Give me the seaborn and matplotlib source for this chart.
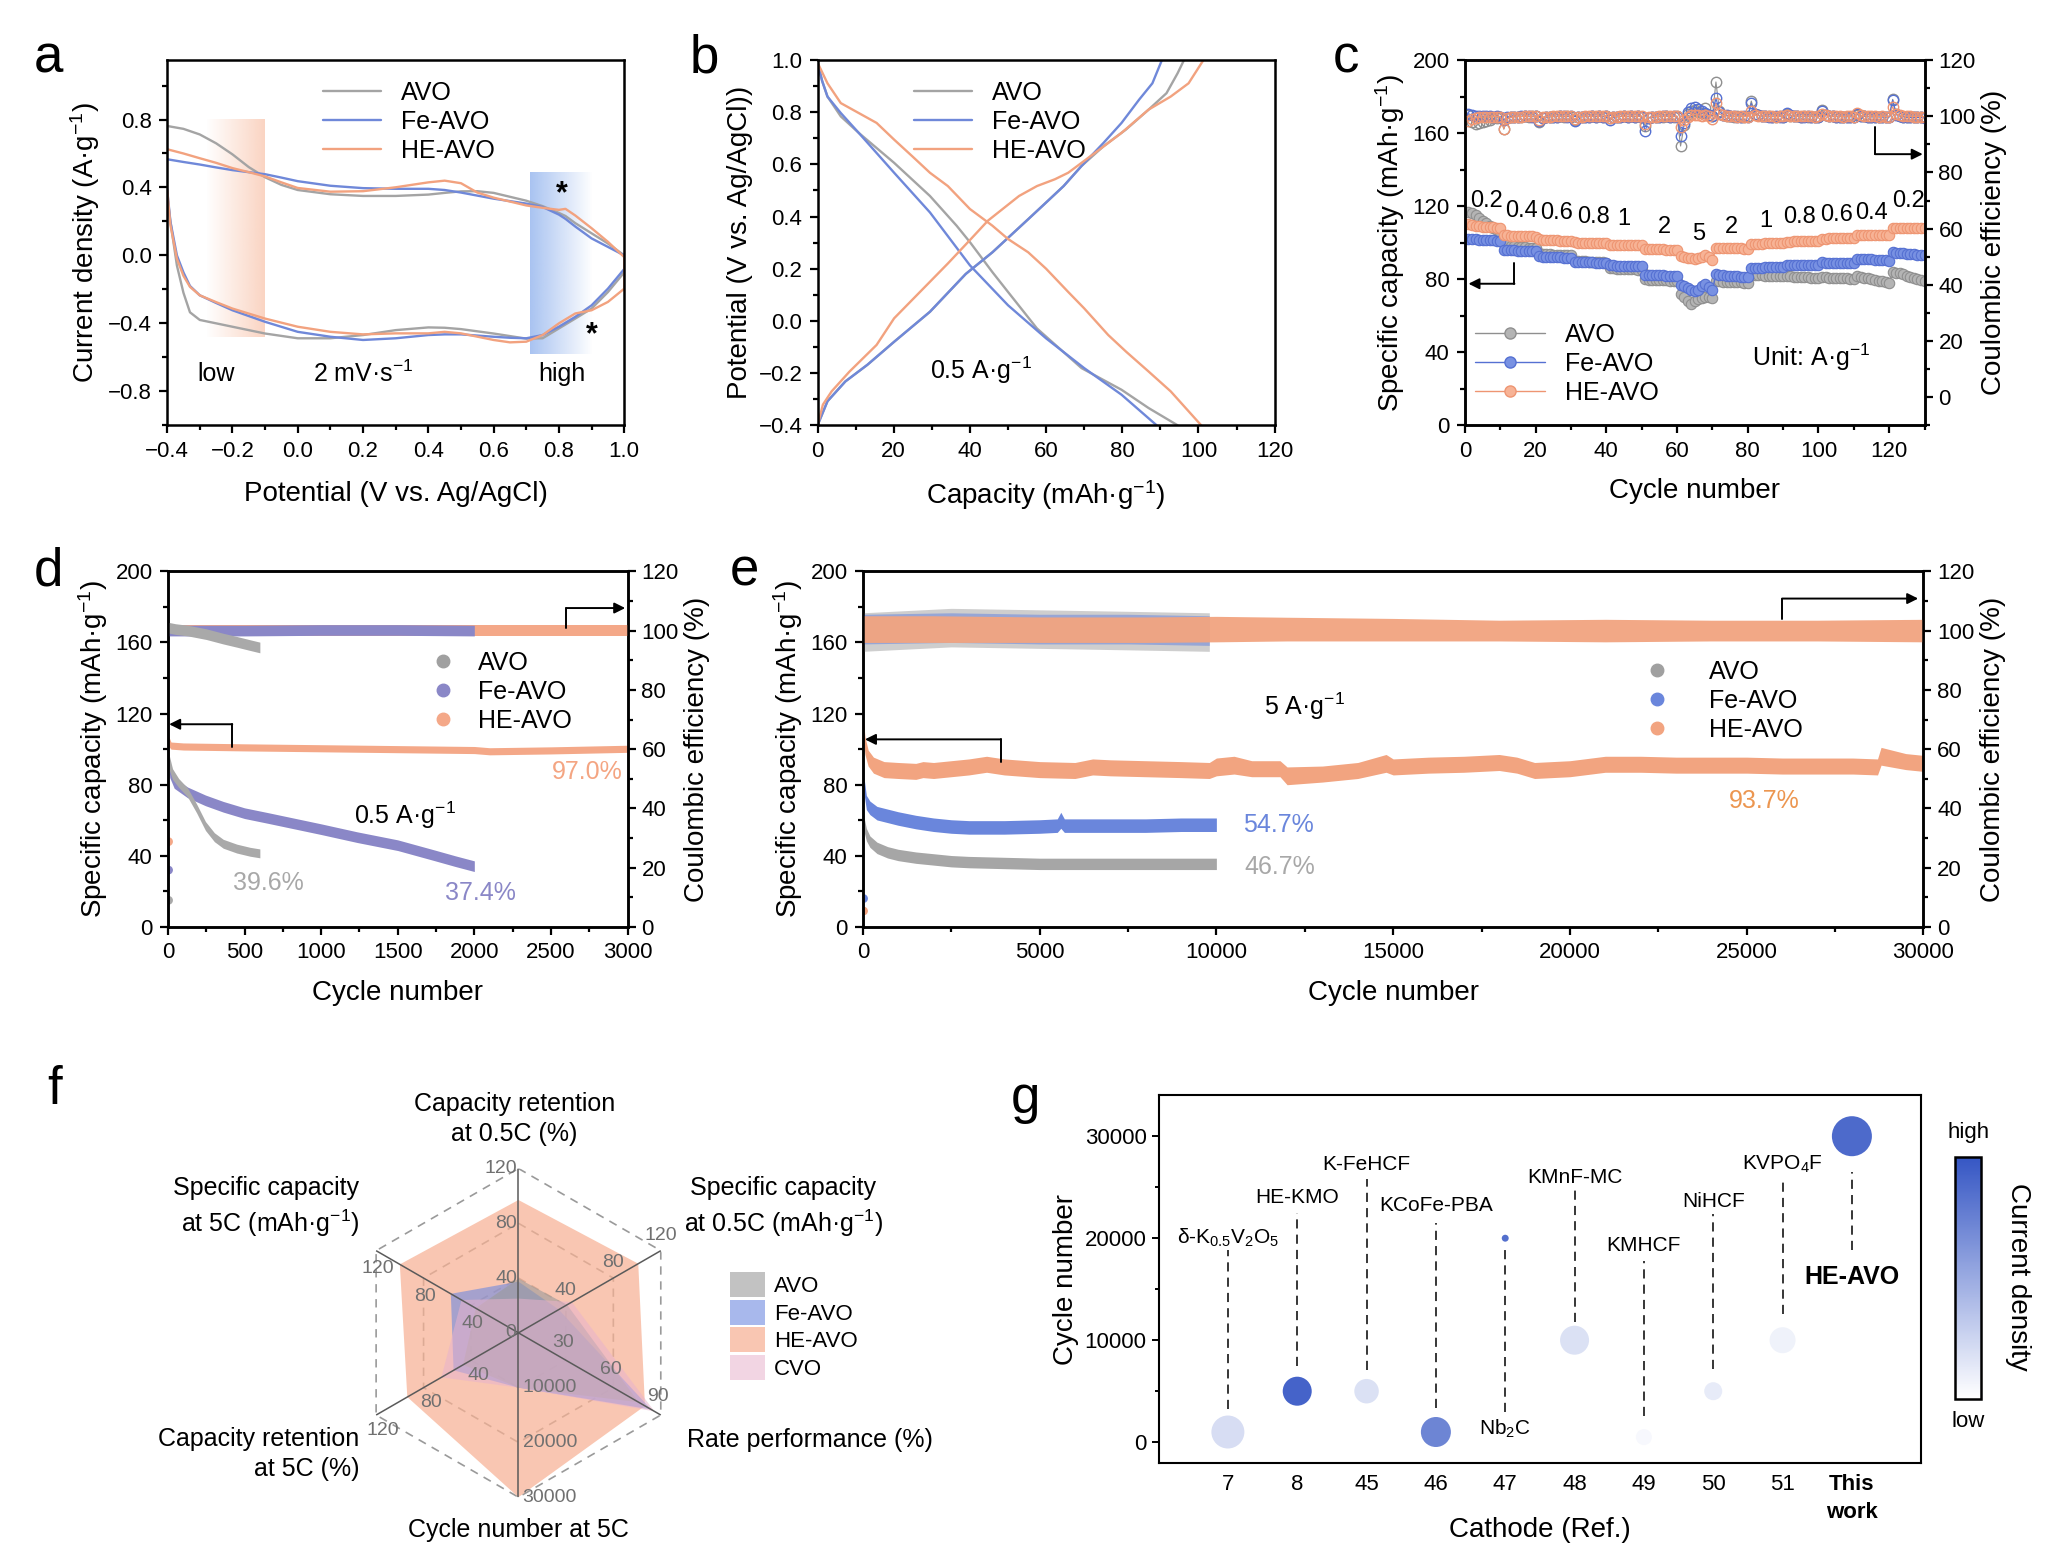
import numpy as np
import pandas as pd
import matplotlib
matplotlib.use('Agg')
import matplotlib.pyplot as plt
import seaborn as sns
from matplotlib.colors import LinearSegmentedColormap, Normalize, to_rgba
from matplotlib.cm import ScalarMappable
from matplotlib.lines import Line2D
from matplotlib.patches import Patch
from matplotlib.ticker import MultipleLocator

# ============================================================
# data
# ============================================================
# --- (a) CV, 2 mV/s : anodic branch (-0.4 -> 1.0) and cathodic branch (1.0 -> -0.4)
cv_up_E = [-0.4, -0.35, -0.3, -0.25, -0.2, -0.15, -0.1, -0.05, 0.0, 0.1, 0.2, 0.3,
           0.4, 0.45, 0.5, 0.55, 0.6, 0.7, 0.75, 0.8, 0.82, 0.85, 0.9, 0.95, 1.0]
cv_up_avo = [0.762, 0.745, 0.712, 0.66, 0.595, 0.52, 0.46, 0.415, 0.385, 0.36, 0.35, 0.35,
             0.358, 0.368, 0.377, 0.378, 0.368, 0.322, 0.29, 0.25, 0.232, 0.19, 0.13, 0.07, 0.0]
cv_up_fe = [0.566, 0.55, 0.535, 0.518, 0.502, 0.49, 0.478, 0.458, 0.437, 0.41, 0.396, 0.392,
            0.392, 0.385, 0.37, 0.352, 0.334, 0.305, 0.285, 0.24, 0.215, 0.17, 0.1, 0.05, 0.0]
cv_up_he = [0.625, 0.6, 0.572, 0.545, 0.514, 0.49, 0.465, 0.43, 0.397, 0.375, 0.378, 0.401,
            0.43, 0.44, 0.425, 0.37, 0.34, 0.294, 0.28, 0.268, 0.274, 0.235, 0.16, 0.08, -0.01]
cv_lo_E = [1.0, 0.95, 0.9, 0.85, 0.8, 0.75, 0.7, 0.65, 0.6, 0.5, 0.45, 0.4, 0.3, 0.2, 0.1,
           0.0, -0.1, -0.2, -0.25, -0.3, -0.33, -0.35, -0.37, -0.39, -0.4]
cv_lo_avo = [-0.1, -0.216, -0.313, -0.372, -0.43, -0.488, -0.49, -0.475, -0.46, -0.434, -0.426, -0.424,
             -0.44, -0.469, -0.488, -0.488, -0.46, -0.42, -0.40, -0.38, -0.335, -0.22, -0.06, 0.2, 0.36]
cv_lo_fe = [-0.08, -0.196, -0.294, -0.362, -0.42, -0.469, -0.488, -0.485, -0.479, -0.465, -0.465, -0.469,
            -0.488, -0.498, -0.479, -0.45, -0.391, -0.323, -0.28, -0.235, -0.18, -0.1, 0.0, 0.2, 0.39]
cv_lo_he = [-0.196, -0.274, -0.323, -0.342, -0.4, -0.469, -0.508, -0.512, -0.498, -0.459, -0.45, -0.459,
            -0.459, -0.465, -0.45, -0.42, -0.372, -0.313, -0.275, -0.235, -0.185, -0.12, -0.02, 0.18, 0.39]

# --- (b) GCD at 0.5 A/g
dis_avo_Q = [0, 1.2, 2.6, 6.1, 10.8, 20.1, 29.5, 36.5, 40.0, 45.9, 50.0, 57.6, 69.3, 79.8, 86.9, 94.5]
dis_avo_V = [0.99, 0.92, 0.86, 0.784, 0.721, 0.606, 0.479, 0.365, 0.302, 0.187, 0.111, -0.029,
             -0.181, -0.264, -0.334, -0.4]
dis_fe_Q = [0, 1.2, 2.6, 6.1, 10.8, 20.1, 29.5, 40.0, 50.0, 60.0, 70.0, 79.8, 89.0]
dis_fe_V = [0.99, 0.92, 0.86, 0.797, 0.721, 0.568, 0.416, 0.213, 0.060, -0.067, -0.181, -0.283, -0.4]
dis_he_Q = [0, 2.6, 6.1, 10.8, 15.5, 20.1, 24.8, 29.5, 34.2, 40.0, 45.9, 50.0, 55.3, 60.0, 65.8,
            70.0, 76.3, 81.0, 86.9, 92.7, 100.7]
dis_he_V = [0.99, 0.911, 0.835, 0.797, 0.759, 0.695, 0.632, 0.568, 0.517, 0.429, 0.365, 0.314, 0.263,
            0.200, 0.111, 0.048, -0.054, -0.118, -0.194, -0.270, -0.4]
chg_avo_Q = [0, 2.6, 7.3, 13.1, 20.1, 29.5, 38.9, 45.9, 55.3, 60.0, 64.6, 69.3, 75.1, 80.9, 86.9,
             91.6, 94.5, 96.2]
chg_avo_V = [-0.4, -0.308, -0.232, -0.168, -0.080, 0.035, 0.18, 0.263, 0.390, 0.454, 0.517, 0.594,
             0.670, 0.733, 0.810, 0.873, 0.949, 1.0]
chg_fe_Q = [0, 2.6, 7.3, 13.1, 20.1, 29.5, 38.9, 45.9, 55.3, 60.0, 64.6, 69.3, 75.1, 79.8, 84.4, 87.9, 90.4]
chg_fe_V = [-0.4, -0.308, -0.232, -0.168, -0.080, 0.035, 0.18, 0.263, 0.390, 0.454, 0.517, 0.594,
            0.683, 0.759, 0.848, 0.911, 1.0]
chg_he_Q = [0, 1.4, 3.7, 8.4, 15.5, 20.1, 29.5, 34.2, 40.0, 44.7, 52.9, 57.6, 62.3, 65.8, 69.3,
            75.2, 79.8, 86.9, 92.7, 97.4, 101.3]
chg_he_V = [-0.4, -0.321, -0.270, -0.194, -0.092, 0.01, 0.15, 0.22, 0.31, 0.384, 0.479, 0.517, 0.543,
            0.568, 0.606, 0.670, 0.721, 0.810, 0.860, 0.911, 1.0]

# --- (c) rate performance, 10 cycles per rate
rate_cap_he = [110.2, 109.6, 109.2, 108.9, 108.7, 108.5, 108.4, 108.3, 108.2, 108.0,
               104.3, 104.0, 103.8, 103.7, 103.6, 103.5, 103.5, 103.4, 103.4, 103.3,
               101.8, 101.5, 101.4, 101.3, 101.2, 101.2, 101.1, 101.1, 101.0, 101.0,
               100.1, 100.0, 99.9, 99.9, 99.8, 99.8, 99.8, 99.7, 99.7, 99.7,
               98.9, 98.8, 98.7, 98.7, 98.6, 98.6, 98.6, 98.5, 98.5, 98.5,
               96.5, 96.4, 96.4, 96.3, 96.3, 96.3, 96.2, 96.2, 96.2, 96.1,
               92.8, 92.0, 91.5, 91.8, 91.2, 91.6, 92.4, 93.0, 92.0, 90.6,
               97.0, 97.2, 97.1, 97.0, 96.9, 96.9, 96.8, 96.8, 96.7, 96.6,
               99.2, 99.4, 99.5, 99.5, 99.6, 99.6, 99.7, 99.7, 99.8, 99.8,
               100.5, 100.6, 100.7, 100.7, 100.8, 100.8, 100.9, 100.9, 101.0, 101.0,
               102.0, 102.2, 102.3, 102.3, 102.4, 102.4, 102.5, 102.5, 102.6, 102.6,
               104.0, 104.1, 104.1, 104.2, 104.2, 104.2, 104.3, 104.3, 104.3, 104.3,
               108.0, 108.2, 108.2, 108.1, 108.1, 108.0, 108.0, 107.9, 107.9, 107.8]
rate_cap_fe = [102.0, 101.9, 101.8, 101.7, 101.6, 101.5, 101.4, 101.3, 101.1, 101.0,
               96.2, 96.0, 95.9, 95.8, 95.7, 95.7, 95.6, 95.6, 95.5, 95.5,
               92.6, 92.4, 92.3, 92.2, 92.1, 92.0, 91.9, 91.8, 91.7, 91.6,
               89.6, 89.5, 89.4, 89.3, 89.3, 89.2, 89.1, 89.1, 89.0, 89.0,
               87.6, 87.5, 87.4, 87.3, 87.3, 87.2, 87.2, 87.1, 87.1, 87.0,
               82.4, 82.3, 82.2, 82.2, 82.1, 82.1, 82.0, 82.0, 81.9, 81.9,
               77.0, 76.0, 75.0, 74.0, 73.5, 74.2, 76.0, 77.2, 75.6, 74.2,
               82.6, 82.4, 82.2, 82.0, 81.8, 81.7, 81.5, 81.4, 81.2, 81.0,
               86.0, 86.2, 86.3, 86.3, 86.4, 86.4, 86.5, 86.5, 86.6, 86.6,
               87.6, 87.7, 87.7, 87.8, 87.8, 87.9, 87.9, 88.0, 88.0, 88.0,
               89.2, 89.1, 89.1, 89.0, 89.0, 88.9, 88.9, 88.8, 88.7, 88.6,
               91.2, 91.1, 91.0, 90.9, 90.8, 90.7, 90.6, 90.5, 90.3, 90.1,
               94.8, 94.6, 94.4, 94.2, 94.0, 93.8, 93.6, 93.4, 93.2, 93.0]
rate_cap_avo = [116.8, 116.2, 115.0, 113.5, 112.0, 110.5, 109.2, 108.0, 107.0, 106.0,
                99.0, 98.6, 98.3, 98.0, 97.8, 97.6, 97.4, 97.2, 97.0, 96.8,
                94.2, 94.0, 93.8, 93.6, 93.5, 93.4, 93.3, 93.2, 93.1, 93.0,
                90.2, 90.0, 89.8, 89.7, 89.6, 89.5, 89.4, 89.3, 89.2, 89.1,
                86.2, 86.0, 85.8, 85.7, 85.6, 85.5, 85.4, 85.3, 85.2, 85.1,
                80.0, 79.8, 79.7, 79.6, 79.5, 79.4, 79.3, 79.2, 79.1, 79.0,
                71.8, 70.2, 68.2, 66.6, 68.0, 69.0, 69.8, 70.2, 70.0, 69.5,
                79.0, 78.8, 78.7, 78.6, 78.5, 78.4, 78.3, 78.2, 78.1, 78.0,
                82.4, 82.3, 82.2, 82.1, 82.0, 81.9, 81.8, 81.7, 81.6, 81.5,
                81.6, 81.5, 81.4, 81.3, 81.2, 81.1, 81.0, 80.8, 80.7, 80.5,
                81.2, 81.0, 80.9, 80.8, 80.7, 80.6, 80.5, 80.4, 80.2, 80.0,
                81.6, 81.2, 80.8, 80.4, 80.0, 79.6, 79.2, 78.8, 78.4, 78.0,
                84.0, 83.6, 83.2, 82.6, 82.0, 81.4, 80.8, 80.2, 79.6, 79.0]
rate_ce_he = [98.4, 99.0, 99.4, 99.6, 99.7, 99.8, 99.8, 99.9, 99.9, 99.9,
              95.6, 99.2, 99.6, 99.8, 99.9, 99.9, 100.0, 100.0, 100.0, 100.0,
              98.6, 99.6, 99.8, 99.9, 100.0, 100.0, 100.0, 100.0, 100.1, 100.0,
              99.0, 99.7, 99.9, 100.0, 100.0, 100.0, 100.1, 100.0, 100.1, 100.1,
              99.3, 99.8, 99.9, 100.0, 100.0, 100.0, 100.1, 100.0, 100.0, 100.1,
              97.4, 99.6, 99.8, 99.9, 100.0, 100.0, 100.0, 100.1, 100.0, 100.0,
              96.2, 98.8, 99.6, 100.3, 100.6, 100.4, 100.2, 100.5, 100.1, 99.0,
              104.6, 100.8, 100.3, 100.1, 100.0, 100.0, 99.9, 100.0, 99.9, 99.9,
              101.8, 100.4, 100.2, 100.1, 100.0, 100.0, 100.0, 99.9, 100.0, 100.0,
              100.6, 100.2, 100.1, 100.0, 100.0, 100.0, 100.0, 100.0, 99.9, 100.0,
              100.8, 100.3, 100.1, 100.0, 100.0, 100.0, 99.9, 100.0, 100.0, 99.9,
              101.0, 100.3, 100.1, 100.0, 100.0, 100.0, 99.9, 100.0, 99.9, 99.9,
              103.4, 100.8, 100.3, 100.1, 100.0, 100.0, 99.9, 99.9, 99.9, 99.9]
rate_ce_fe = [100.9, 100.4, 100.2, 100.1, 100.0, 100.0, 100.0, 99.9, 100.0, 99.9,
              98.8, 99.6, 99.8, 99.9, 99.9, 100.0, 100.0, 100.0, 99.9, 100.0,
              98.2, 99.5, 99.7, 99.8, 99.9, 99.9, 100.0, 100.0, 99.9, 100.0,
              98.4, 99.6, 99.8, 99.9, 99.9, 100.0, 99.9, 100.0, 99.9, 100.0,
              98.8, 99.7, 99.8, 99.9, 100.0, 99.9, 100.0, 99.9, 100.0, 99.9,
              94.6, 99.4, 99.7, 99.8, 99.9, 100.0, 100.0, 99.9, 100.0, 99.9,
              93.0, 97.6, 101.6, 102.8, 103.2, 102.6, 101.8, 101.2, 100.6, 100.2,
              106.4, 101.6, 100.6, 100.3, 100.1, 100.0, 99.9, 99.9, 100.0, 99.9,
              104.6, 100.8, 100.3, 100.1, 100.0, 99.9, 99.9, 100.0, 99.9, 99.9,
              101.0, 100.3, 100.1, 100.0, 99.9, 99.9, 100.0, 99.9, 99.9, 99.8,
              101.8, 100.4, 100.1, 100.0, 99.9, 99.9, 99.8, 99.9, 99.8, 99.8,
              100.8, 100.2, 100.0, 99.9, 99.8, 99.8, 99.8, 99.7, 99.8, 99.7,
              105.8, 100.6, 100.1, 99.8, 99.7, 99.6, 99.6, 99.6, 99.6, 99.5]
rate_ce_avo = [100.6, 98.0, 97.4, 97.6, 98.0, 98.4, 98.8, 99.2, 99.4, 99.6,
               95.4, 99.4, 99.7, 99.8, 99.9, 99.9, 100.0, 99.9, 100.0, 100.0,
               98.0, 99.5, 99.7, 99.8, 99.9, 99.9, 100.0, 99.9, 100.0, 99.9,
               98.8, 99.6, 99.8, 99.9, 99.9, 100.0, 99.9, 100.0, 99.9, 100.0,
               99.2, 99.7, 99.8, 99.9, 100.0, 99.9, 100.0, 99.9, 100.0, 99.9,
               96.4, 99.5, 99.7, 99.8, 99.9, 99.9, 100.0, 99.9, 99.9, 100.0,
               89.4, 96.8, 100.8, 102.0, 102.2, 101.6, 101.0, 103.0, 100.4, 100.0,
               112.2, 101.8, 100.6, 100.2, 100.0, 99.9, 100.0, 99.9, 99.9, 100.0,
               105.4, 100.9, 100.3, 100.1, 100.0, 100.0, 99.9, 99.9, 100.0, 99.9,
               100.8, 100.2, 100.1, 100.0, 99.9, 100.0, 99.9, 99.9, 99.9, 99.9,
               102.4, 100.5, 100.2, 100.0, 99.9, 99.9, 99.9, 99.8, 99.9, 99.8,
               100.6, 100.1, 100.0, 99.9, 99.8, 99.8, 99.8, 99.8, 99.7, 99.8,
               106.0, 100.8, 100.2, 99.9, 99.7, 99.7, 99.6, 99.6, 99.6, 99.6]
rate_labels = ['0.2', '0.4', '0.6', '0.8', '1', '2', '5', '2', '1', '0.8', '0.6', '0.4', '0.2']
rate_lbl_x = [6, 16, 26, 36.5, 45, 56.5, 66, 75.5, 85, 94.5, 105, 115, 125.5]
rate_lbl_y = [123, 117.5, 116, 114, 113, 108.5, 105, 108.5, 112, 114, 115, 116.5, 123]

# --- (d) cycling at 0.5 A/g : capacity bands (centre, half width) and CE bands
d_avo_cyc = [1, 10, 30, 70, 128, 187, 245, 303, 361, 449, 536, 600]
d_avo_cap = [104, 92, 86, 81, 75.7, 66.7, 56.8, 50.5, 46.8, 44.1, 42.3, 41.4]
d_avo_hw = [4, 4, 3, 2.5, 2.5, 2.5, 2.5, 2.5, 2.5, 2.5, 2.5, 2.5]
d_fe_cyc = [1, 12, 41, 128, 245, 361, 500, 653, 1000, 1236, 1500, 1732, 1877, 2000]
d_fe_cap = [101, 88, 81, 75.7, 71.2, 67.6, 64, 61.3, 55, 50.5, 46, 40.5, 37, 34.2]
d_fe_hw = [4, 4, 3, 3, 3, 3, 3, 3, 3, 3, 3, 3, 3, 3]
d_he_cyc = [1, 20, 100, 500, 1000, 1500, 2000, 2100, 2500, 3000]
d_he_cap = [105, 102, 101.5, 101, 100.5, 100, 99.5, 98.8, 99.3, 100.2]
d_he_hw = [3, 2, 2, 2, 2, 2, 2, 2, 2, 2]
d_he_ce_cyc = [1, 1000, 2000, 2500, 3000]
d_he_ce = [100.0, 100.0, 100.0, 100.0, 100.0]
d_fe_ce_cyc = [1, 500, 1000, 1500, 2000]
d_fe_ce = [100.0, 100.0, 100.2, 100.2, 100.0]
d_avo_ce_cyc = [1, 50, 130, 250, 360, 450, 536, 600]
d_avo_ce = [101.0, 100.5, 100.0, 98.8, 97.3, 96.2, 95.1, 94.3]
d_first_cap = [15, 32, 48]          # activation cycle: AVO, Fe-AVO, HE-AVO

# --- (e) cycling at 5 A/g
e_he_cyc = [0, 60, 150, 300, 600, 1000, 1500, 1700, 2000, 2500, 3000, 3500, 4000, 5000, 6000,
            6500, 7000, 8000, 9000, 9800, 10000, 10500, 11000, 11800, 12000, 13000, 14000, 14800,
            15000, 16000, 17000, 18000, 18500, 19000, 20000, 21000, 22000, 23000, 24000, 25000,
            26000, 27000, 28000, 28700, 28800, 29500, 30000]
e_he_cap = [115, 102, 95, 91, 88.5, 88, 87.5, 88.5, 88, 89, 90, 91.5, 90, 88.5, 88,
            90, 89.5, 89, 88.5, 88, 90, 91, 89, 89, 85, 86, 88, 92,
            90, 91, 91.5, 92.5, 91, 88, 89, 91.5, 91.5, 91, 91, 91,
            90.5, 90.5, 90.5, 90, 96, 93, 92]
e_he_hw = [6, 5, 4.5, 4.5, 4.5, 4.5, 4.5, 4.5, 4.5, 4.5, 4.5, 4.5, 4.5, 4.5, 4.5,
           4.5, 4.5, 4.5, 4.5, 4.5, 5, 5, 4.5, 4.5, 5, 4.5, 4.5, 5,
           4.5, 4.5, 4.5, 4.5, 4.5, 4.5, 4.5, 4.5, 4.5, 4.5, 4.5, 4.5,
           4.5, 4.5, 4.5, 4.5, 5, 4.5, 4.5]
e_fe_cyc = [0, 30, 100, 200, 400, 700, 1000, 1500, 2000, 2500, 3000, 4000, 5000, 5500, 5600,
            5700, 6000, 7000, 8000, 9000, 10000]
e_fe_cap = [112, 80, 70, 67, 64, 62.5, 61, 59, 57.5, 56.5, 56, 56, 56.5, 57, 60, 57, 57, 57, 57,
            57.5, 57.5]
e_fe_hw = [5, 4.5, 4, 3.8, 3.8, 3.8, 3.8, 3.8, 3.8, 3.8, 3.8, 3.8, 3.8, 3.8, 4.5, 3.8, 3.8, 3.8,
           3.8, 3.8, 3.8]
e_avo_cyc = [0, 30, 100, 200, 400, 700, 1000, 1500, 2000, 2500, 3000, 4000, 5000, 6000, 7000,
             8000, 9000, 10000]
e_avo_cap = [65, 58, 52, 48, 44.5, 42, 40.5, 39, 38, 37, 36.5, 36, 35.5, 35.5, 35.5, 35.5, 35.5, 35.5]
e_avo_hw = [4, 4, 3.5, 3.2, 3.2, 3.2, 3.2, 3.2, 3.2, 3.2, 3.2, 3.2, 3.2, 3.2, 3.2, 3.2, 3.2, 3.2]
e_he_ce_cyc = [0, 2000, 5000, 8000, 10000, 12000, 15000, 18000, 21000, 24000, 27000, 30000]
e_he_ce = [100.5, 100.5, 100.3, 100.3, 100.5, 100.5, 100.3, 100.0, 100.0, 100.0, 100.0, 100.0]
e_he_ce_hw = [4.5, 4.5, 4.3, 4.3, 4.3, 4.0, 3.8, 3.5, 3.8, 3.5, 3.5, 3.8]
e_fe_ce_cyc = [0, 2500, 5000, 7500, 9800]
e_fe_ce = [100.5, 101.0, 100.5, 100.5, 100.0]
e_fe_ce_hw = [5.0, 5.0, 5.0, 5.0, 5.0]
e_avo_ce_cyc = [0, 2500, 5000, 7500, 9800]
e_avo_ce = [99.5, 101.0, 100.5, 100.0, 99.5]
e_avo_ce_hw = [6.5, 6.5, 6.5, 6.5, 6.5]
e_first_cap = [16, 9]               # activation cycle: Fe-AVO, HE-AVO

# --- (f) radar
radar_axes = ['Capacity retention\nat 0.5C (%)', 'Specific capacity\nat 0.5C (mAh·g$^{-1}$)',
              'Rate performance (%)', 'Cycle number at 5C', 'Capacity retention\nat 5C (%)',
              'Specific capacity\nat 5C (mAh·g$^{-1}$)']
radar_max = [120, 120, 90, 30000, 120, 120]
radar_ticks = [['40', '80', '120'], ['40', '80', '120'], ['30', '60', '90'],
               ['10000', '20000', '30000'], ['40', '80', '120'], ['40', '80', '120']]
radar_he = [97.0, 101, 80, 30000, 93.7, 100]
radar_fe = [37.4, 34, 84, 10000, 54.7, 57]
radar_avo = [39.6, 41, 76, 10000, 46.7, 36]
radar_cvo = [25, 45, 86, 10000, 65, 48]

# --- (g) comparison with reported cathodes
g_refs = ['7', '8', '45', '46', '47', '48', '49', '50', '51', 'This\nwork']
g_names = ['δ-K$_{0.5}$V$_{2}$O$_{5}$', 'HE-KMO', 'K-FeHCF', 'KCoFe-PBA', 'Nb$_{2}$C', 'KMnF-MC',
           'KMHCF', 'NiHCF', 'KVPO$_{4}$F', 'HE-AVO']
g_cycles = [1000, 5000, 5000, 1000, 20000, 10000, 500, 5000, 10000, 30000]
g_density = [0.2, 0.92, 0.18, 0.72, 0.85, 0.18, 0.04, 0.12, 0.08, 0.88]
g_size = [564, 436, 311, 467, 25, 436, 133, 168, 350, 830]
g_name_y = [20000, 24000, 27200, 23200, 1300, 26000, 19300, 23600, 27200, 16200]
g_line_lo = [3300, 7500, 7100, 3400, 3000, 11800, 2600, 7200, 12600, 18800]
g_line_hi = [18800, 22500, 25800, 21500, 19000, 24700, 17800, 22400, 25800, 26500]

# ============================================================
# style
# ============================================================
sns.set_theme(style='ticks')
plt.rcParams['font.family'] = ['Liberation Sans', 'DejaVu Sans']
plt.rcParams.update({
    'mathtext.fontset': 'custom',
    'mathtext.rm': 'Liberation Sans',
    'mathtext.it': 'Liberation Sans:italic',
    'mathtext.bf': 'Liberation Sans:bold',
    'axes.edgecolor': 'black', 'axes.labelcolor': 'black', 'text.color': 'black',
    'xtick.color': 'black', 'ytick.color': 'black', 'legend.frameon': False,
})

GRAY, BLUE, ORANGE, PURPLE = '#a4a4a4', '#6f88d9', '#f2a27f', '#8a87c7'
TICK, LAB, LEG = 16, 20, 18


def frame(ax, xmaj, xmin, ymaj, ymin):
    ax.xaxis.set_major_locator(MultipleLocator(xmaj))
    ax.xaxis.set_minor_locator(MultipleLocator(xmin))
    ax.yaxis.set_major_locator(MultipleLocator(ymaj))
    ax.yaxis.set_minor_locator(MultipleLocator(ymin))
    ax.tick_params(which='both', direction='out', top=False, right=False, width=1.6,
                   labelsize=TICK, pad=5)
    ax.tick_params(which='major', length=6)
    ax.tick_params(which='minor', length=3.5)
    for s in ax.spines.values():
        s.set_linewidth(1.8)


def frame_right(ax2, ymaj, ymin):
    ax2.yaxis.set_major_locator(MultipleLocator(ymaj))
    ax2.yaxis.set_minor_locator(MultipleLocator(ymin))
    ax2.tick_params(axis='y', which='both', direction='out', right=True, left=False, width=1.6,
                    labelsize=TICK, pad=4)
    ax2.tick_params(axis='y', which='major', length=6)
    ax2.tick_params(axis='y', which='minor', length=3.5)
    for s in ax2.spines.values():
        s.set_linewidth(1.8)


def arrow(ax, x0, y0, y1, x1):
    ax.plot([x0, x0], [y0, y1], color='black', lw=1.4)
    ax.annotate('', xy=(x1, y1), xytext=(x0, y1),
                arrowprops=dict(arrowstyle='-|>', color='black', lw=1.4, mutation_scale=16,
                                shrinkA=0, shrinkB=0))


def band(ax, cyc, mid, hw, color, alpha=1.0, z=2):
    mid, hw = np.asarray(mid), np.asarray(hw)
    ax.fill_between(cyc, mid - hw, mid + hw, color=color, lw=0, alpha=alpha, zorder=z)


fig = plt.figure(figsize=(20.48, 15.52), dpi=100)

# ============================================================
# (a)
# ============================================================
ax = fig.add_axes([0.0816, 0.726, 0.2232, 0.2353])
grad = np.linspace(0, 1, 256).reshape(1, -1)
ax.imshow(grad, extent=[-0.28, -0.1, -0.48, 0.8], aspect='auto', zorder=0,
          cmap=LinearSegmentedColormap.from_list('lo', [to_rgba('#f6a985', 0.0), to_rgba('#f6a985', 0.5)]))
ax.imshow(grad, extent=[0.71, 0.9, -0.58, 0.49], aspect='auto', zorder=0,
          cmap=LinearSegmentedColormap.from_list('hi', [to_rgba('#6f9be8', 0.6), to_rgba('#6f9be8', 0.0)]))
for up, lo, col in [(cv_up_avo, cv_lo_avo, GRAY), (cv_up_fe, cv_lo_fe, BLUE), (cv_up_he, cv_lo_he, ORANGE)]:
    sns.lineplot(x=cv_up_E + cv_lo_E, y=up + lo, sort=False, estimator=None, color=col, lw=1.7,
                 ax=ax, legend=False)
ax.set_xlim(-0.4, 1.0)
ax.set_ylim(-1.0, 1.15)
frame(ax, 0.2, 0.1, 0.4, 0.2)
ax.set_xlabel('Potential (V vs. Ag/AgCl)', fontsize=LAB, labelpad=14)
ax.set_ylabel('Current density (A·g$^{-1}$)', fontsize=LAB)
ax.text(-0.25, -0.7, 'low', fontsize=LEG, ha='center', va='center')
ax.text(0.2, -0.7, '2 mV·s$^{-1}$', fontsize=LEG, ha='center', va='center')
ax.text(0.81, -0.7, 'high', fontsize=LEG, ha='center', va='center')
ax.text(0.81, 0.36, '*', fontsize=22, ha='center', va='center', fontweight='bold')
ax.text(0.9, -0.47, '*', fontsize=22, ha='center', va='center', fontweight='bold')
ax.legend(handles=[Line2D([], [], color=c, lw=1.7) for c in (GRAY, BLUE, ORANGE)],
          labels=['AVO', 'Fe-AVO', 'HE-AVO'], loc='center left', bbox_to_anchor=(0.32, 0.83),
          fontsize=LEG, handlelength=2.3, labelspacing=0.2, borderaxespad=0)

# ============================================================
# (b)
# ============================================================
ax = fig.add_axes([0.3992, 0.726, 0.2232, 0.2353])
for Q, V, col in [(dis_avo_Q, dis_avo_V, GRAY), (chg_avo_Q, chg_avo_V, GRAY),
                  (dis_fe_Q, dis_fe_V, BLUE), (chg_fe_Q, chg_fe_V, BLUE),
                  (dis_he_Q, dis_he_V, ORANGE), (chg_he_Q, chg_he_V, ORANGE)]:
    sns.lineplot(x=Q, y=V, sort=False, estimator=None, color=col, lw=1.7, ax=ax, legend=False)
ax.set_xlim(0, 120)
ax.set_ylim(-0.4, 1.0)
frame(ax, 20, 10, 0.2, 0.1)
ax.set_xlabel('Capacity (mAh·g$^{-1}$)', fontsize=LAB, labelpad=12)
ax.set_ylabel('Potential (V vs. Ag/AgCl))', fontsize=LAB)
ax.text(43, -0.19, '0.5 A·g$^{-1}$', fontsize=LEG, ha='center', va='center')
ax.legend(handles=[Line2D([], [], color=c, lw=1.7) for c in (GRAY, BLUE, ORANGE)],
          labels=['AVO', 'Fe-AVO', 'HE-AVO'], loc='center left', bbox_to_anchor=(0.19, 0.83),
          fontsize=LEG, handlelength=2.3, labelspacing=0.2, borderaxespad=0)

# ============================================================
# (c)
# ============================================================
ax = fig.add_axes([0.7153, 0.726, 0.2244, 0.2353])
ax2 = ax.twinx()
cyc_c = np.arange(1, 131)
c_styles = [('AVO', rate_cap_avo, rate_ce_avo, '#b4b4b4', '#8f8f8f'),
            ('Fe-AVO', rate_cap_fe, rate_ce_fe, '#7891e2', '#5570d2'),
            ('HE-AVO', rate_cap_he, rate_ce_he, '#f7b396', '#ee9572')]
for name, cap, ce, fc, ec in c_styles:
    sns.lineplot(x=cyc_c, y=cap, ax=ax, color=ec, lw=1.0, marker='o', markersize=7.5,
                 markerfacecolor=fc, markeredgecolor=ec, markeredgewidth=0.8, legend=False)
    sns.lineplot(x=cyc_c, y=ce, ax=ax2, color=ec, lw=0.8, marker='o', markersize=7.5,
                 markerfacecolor='none', markeredgecolor=ec, markeredgewidth=1.0, legend=False)
for lbl, x, y in zip(rate_labels, rate_lbl_x, rate_lbl_y):
    ax.text(x, y, lbl, fontsize=17, ha='center', va='center')
ax.text(98, 37, 'Unit: A·g$^{-1}$', fontsize=LEG, ha='center', va='center')
ax.set_xlim(0, 130)
ax.set_ylim(0, 200)
ax2.set_ylim(-10, 120)
frame(ax, 20, 10, 40, 20)
frame_right(ax2, 20, 10)
arrow(ax, 14, 89, 77.5, 1)
arrow(ax2, 116, 96, 86.5, 129.5)
ax.set_xlabel('Cycle number', fontsize=LAB, labelpad=12)
ax.set_ylabel('Specific capacity (mAh·g$^{-1}$)', fontsize=LAB)
ax2.set_ylabel('Coulombic efficiency (%)', fontsize=LAB)
ax.legend(handles=[Line2D([], [], color=ec, lw=1.0, marker='o', markersize=8, markerfacecolor=fc,
                          markeredgecolor=ec) for _, _, _, fc, ec in c_styles],
          labels=['AVO', 'Fe-AVO', 'HE-AVO'], loc='center left', bbox_to_anchor=(0.0, 0.168),
          fontsize=LEG, handlelength=2.8, labelspacing=0.2, borderaxespad=0)

# ============================================================
# (d)
# ============================================================
ax = fig.add_axes([0.082, 0.4027, 0.2244, 0.2292])
ax2 = ax.twinx()
band(ax, d_he_cyc, d_he_cap, d_he_hw, '#f4a888')
band(ax, d_fe_cyc, d_fe_cap, d_fe_hw, PURPLE)
band(ax, d_avo_cyc, d_avo_cap, d_avo_hw, '#a9a9a9')
band(ax2, d_he_ce_cyc, d_he_ce, [1.8] * 5, '#f4a888')
band(ax2, d_fe_ce_cyc, d_fe_ce, [1.8] * 5, PURPLE)
band(ax2, d_avo_ce_cyc, d_avo_ce, [1.8] * 8, '#a9a9a9')
sns.scatterplot(x=[4, 4, 4], y=d_first_cap, hue=['AVO', 'Fe-AVO', 'HE-AVO'],
                palette=['#a9a9a9', PURPLE, '#f4a888'], s=40, edgecolor='none', ax=ax, legend=False)
ax.set_xlim(0, 3000)
ax.set_ylim(0, 200)
ax2.set_ylim(0, 120)
frame(ax, 500, 250, 40, 20)
frame_right(ax2, 20, 10)
arrow(ax, 420, 101, 114, 8)
arrow(ax2, 2600, 101, 107.6, 2985)
ax.text(1550, 63, '0.5 A·g$^{-1}$', fontsize=LEG, ha='center', va='center')
ax.text(655, 25, '39.6%', fontsize=LEG, color='#a8a8a8', ha='center', va='center')
ax.text(2040, 19, '37.4%', fontsize=LEG, color=PURPLE, ha='center', va='center')
ax.text(2735, 87, '97.0%', fontsize=LEG, color='#f4a582', ha='center', va='center')
ax.set_xlabel('Cycle number', fontsize=LAB, labelpad=12)
ax.set_ylabel('Specific capacity (mAh·g$^{-1}$)', fontsize=LAB)
ax2.set_ylabel('Coulombic efficiency (%)', fontsize=LAB)
ax.legend(handles=[Line2D([], [], lw=0, marker='o', markersize=9, color=c) for c in ('#a0a0a0', PURPLE, '#f4a888')],
          labels=['AVO', 'Fe-AVO', 'HE-AVO'], loc='center left', bbox_to_anchor=(0.545, 0.66),
          fontsize=LEG, handlelength=1.2, labelspacing=0.2, borderaxespad=0)

# ============================================================
# (e)
# ============================================================
ax = fig.add_axes([0.4213, 0.4027, 0.5179, 0.2292])
ax2 = ax.twinx()
band(ax, e_he_cyc, e_he_cap, e_he_hw, '#f2a480')
band(ax, e_fe_cyc, e_fe_cap, e_fe_hw, '#6a86dc')
band(ax, e_avo_cyc, e_avo_cap, e_avo_hw, '#a6a6a6')
band(ax2, e_avo_ce_cyc, e_avo_ce, e_avo_ce_hw, '#a6a6a6', alpha=0.55)
band(ax2, e_fe_ce_cyc, e_fe_ce, e_fe_ce_hw, '#6a86dc', alpha=0.55)
band(ax2, e_he_ce_cyc, e_he_ce, e_he_ce_hw, '#f2a480', alpha=0.95)
sns.scatterplot(x=[20, 20], y=e_first_cap, hue=['Fe-AVO', 'HE-AVO'], palette=['#6a86dc', '#f2a480'],
                s=40, edgecolor='none', ax=ax, legend=False)
ax.set_xlim(0, 30000)
ax.set_ylim(0, 200)
ax2.set_ylim(0, 120)
frame(ax, 5000, 2500, 40, 20)
frame_right(ax2, 20, 10)
arrow(ax, 3900, 93, 105.5, 60)
arrow(ax2, 26000, 104, 110.8, 29850)
ax.text(12500, 124, '5 A·g$^{-1}$', fontsize=LEG, ha='center', va='center')
ax.text(11760, 57.5, '54.7%', fontsize=LEG, color='#6a86dc', ha='center', va='center')
ax.text(11800, 34, '46.7%', fontsize=LEG, color='#a8a8a8', ha='center', va='center')
ax.text(25500, 71, '93.7%', fontsize=LEG, color='#ec9650', ha='center', va='center')
ax.set_xlabel('Cycle number', fontsize=LAB, labelpad=12)
ax.set_ylabel('Specific capacity (mAh·g$^{-1}$)', fontsize=LAB)
ax2.set_ylabel('Coulombic efficiency (%)', fontsize=LAB)
ax.legend(handles=[Line2D([], [], lw=0, marker='o', markersize=9, color=c) for c in ('#a0a0a0', '#6a86dc', '#f2a480')],
          labels=['AVO', 'Fe-AVO', 'HE-AVO'], loc='center left', bbox_to_anchor=(0.725, 0.635),
          fontsize=LEG, handlelength=1.2, labelspacing=0.2, borderaxespad=0, handletextpad=1.5)

# ============================================================
# (f) radar
# ============================================================
axf = fig.add_axes([0.1728, 0.0353, 0.1607, 0.2118], projection='polar')
axf.set_theta_offset(np.pi / 2)
axf.set_theta_direction(-1)
axf.set_ylim(0, 1)
axf.axis('off')
theta = np.deg2rad(np.arange(6) * 60.0)
ring_t = np.r_[theta, theta[0]]
for r in (1 / 3, 2 / 3, 1.0):
    axf.plot(ring_t, [r] * 7, color='#9a9a9a', lw=1.2, ls=(0, (5, 4)), zorder=1)
for t in theta:
    axf.plot([t, t], [0, 1], color='#5a5a5a', lw=1.1, zorder=6)
radar_sets = [('HE-AVO', radar_he, '#f7b194', 0.72), ('Fe-AVO', radar_fe, '#6e89e0', 0.6),
              ('AVO', radar_avo, '#9a9a9a', 0.6), ('CVO', radar_cvo, '#e8b3cc', 0.55)]
for name, vals, col, al in radar_sets:
    rr = np.asarray(vals, dtype=float) / np.asarray(radar_max)
    axf.fill(ring_t, np.r_[rr, rr[0]], color=col, alpha=al, lw=0, zorder=2)
offsets = [((-1, 0), 'right', 'center'), ((0, 11), 'center', 'center'), ((-2, 13), 'center', 'center'),
           ((3, 0), 'left', 'center'), ((5, -11), 'center', 'center'), ((1, -13), 'center', 'center')]
for i, t in enumerate(theta):
    (dx, dy), ha, va = offsets[i]
    for k, lbl in enumerate(radar_ticks[i]):
        axf.annotate(lbl, xy=(t, (k + 1) / 3), xytext=(dx, dy), textcoords='offset points',
                     ha=ha, va=va, fontsize=14, color='#707070', zorder=7)
axf.annotate('0', xy=(0, 0), xytext=(-2, 0), textcoords='offset points', ha='right', va='center',
             fontsize=14, color='#707070', zorder=7)
fig.text(0.2513, 0.279, radar_axes[0], fontsize=18, ha='center', va='center', linespacing=1.3)
fig.text(0.3825, 0.2218, radar_axes[1], fontsize=18, ha='center', va='center', linespacing=1.3)
fig.text(0.3955, 0.0723, radar_axes[2], fontsize=18, ha='center', va='center')
fig.text(0.2532, 0.0143, radar_axes[3], fontsize=18, ha='center', va='center')
fig.text(0.1754, 0.063, radar_axes[4], fontsize=18, ha='right', va='center', linespacing=1.3,
         multialignment='right')
fig.text(0.1754, 0.2218, radar_axes[5], fontsize=18, ha='right', va='center', linespacing=1.3,
         multialignment='right')
fig.legend(handles=[Patch(facecolor=c, alpha=a, edgecolor='none') for _, _, c, a in
                    [radar_sets[2], radar_sets[1], radar_sets[0], radar_sets[3]]],
           labels=['AVO', 'Fe-AVO', 'HE-AVO', 'CVO'], loc='upper left', bbox_to_anchor=(0.352, 0.186),
           fontsize=16, handlelength=1.6, handleheight=1.35, labelspacing=0.12, handletextpad=0.4,
           borderaxespad=0)

# ============================================================
# (g) comparison
# ============================================================
cd_cmap = LinearSegmentedColormap.from_list('cd', ['#ffffff', '#3556c4'])
ax = fig.add_axes([0.5657, 0.0576, 0.3724, 0.2366])
df_g = pd.DataFrame({'pos': np.arange(len(g_refs)), 'cycles': g_cycles,
                     'density': g_density, 'size': g_size})
sns.scatterplot(data=df_g, x='pos', y='cycles', hue='density', palette=cd_cmap, hue_norm=(0, 1),
                size='size', sizes=(min(g_size), max(g_size)), size_norm=(min(g_size), max(g_size)),
                edgecolor='none', legend=False, ax=ax, zorder=3)
ax.vlines(df_g['pos'], g_line_lo, g_line_hi, colors='black', lw=1.1, linestyles=(0, (6, 4)), zorder=2)
for i, (nm, y) in enumerate(zip(g_names, g_name_y)):
    if i == len(g_names) - 1:
        ax.text(i, y, nm, fontsize=18, fontweight='bold', ha='center', va='center')
    else:
        ax.text(i, y, nm, fontsize=15, ha='center', va='center')
ax.set_xlim(-1, 10)
ax.set_ylim(-2000, 34000)
ax.set_xticks(df_g['pos'])
ax.set_xticklabels(g_refs, linespacing=1.45)
ax.get_xticklabels()[-1].set_fontweight('bold')
ax.yaxis.set_major_locator(MultipleLocator(10000))
ax.yaxis.set_minor_locator(MultipleLocator(5000))
ax.tick_params(which='both', direction='out', labelsize=TICK, width=1.4)
ax.tick_params(axis='x', length=0, pad=8)
ax.tick_params(axis='y', which='major', length=5)
ax.tick_params(axis='y', which='minor', length=3)
for s in ax.spines.values():
    s.set_linewidth(1.5)
ax.set_xlabel('Cathode (Ref.)', fontsize=LAB)
ax.xaxis.set_label_coords(0.5, -0.148)
ax.set_ylabel('Cycle number', fontsize=LAB)

cax = fig.add_axes([0.9547, 0.0988, 0.0128, 0.156])
cb = fig.colorbar(ScalarMappable(norm=Normalize(0, 1), cmap=cd_cmap), cax=cax)
cb.set_ticks([])
cb.outline.set_linewidth(1.8)
fig.text(0.9611, 0.2706, 'high', fontsize=16, ha='center', va='center')
fig.text(0.9611, 0.084, 'low', fontsize=16, ha='center', va='center')
fig.text(0.9853, 0.177, 'Current density', fontsize=LAB, rotation=270, ha='center', va='center')

# panel letters
for lt, x, y in [('a', 0.0236, 0.962), ('b', 0.344, 0.962), ('c', 0.657, 0.962),
                 ('d', 0.0236, 0.632), ('e', 0.3635, 0.632), ('f', 0.0268, 0.298),
                 ('g', 0.5006, 0.292)]:
    fig.text(x, y, lt, fontsize=38, ha='center', va='center')

fig.savefig('out.png', dpi=100)
plt.close(fig)
